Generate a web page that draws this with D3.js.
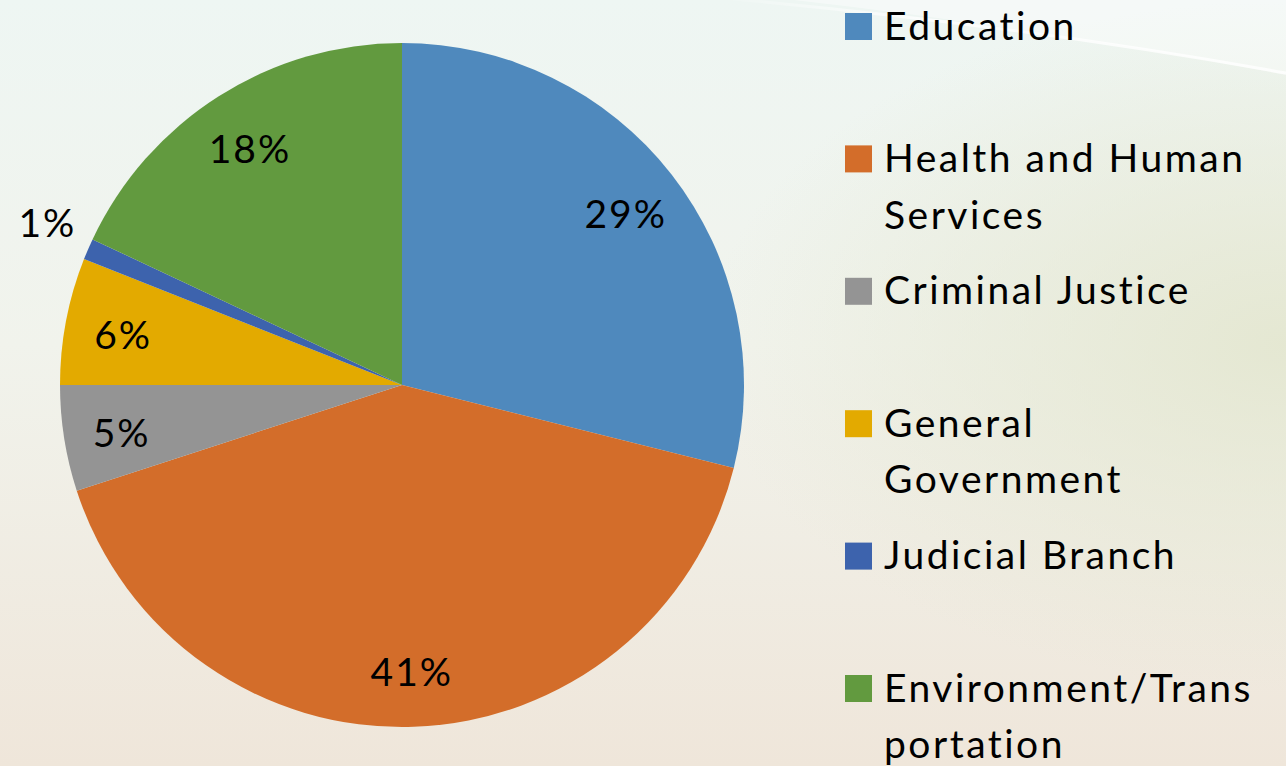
<!DOCTYPE html>
<html>
<head>
<meta charset="utf-8">
<script src="https://d3js.org/d3.v7.min.js"></script>
<style>
    html, body { margin: 0; padding: 0; }
    body { width: 1286px; height: 766px; overflow: hidden; }
    #chart { width: 1286px; height: 766px; }
    text { font-family: Lato, "Open Sans", sans-serif; fill: #000; }
</style>
</head>
<body>
<div id="chart"></div>
<script>
// data
const categories = ["Education", "Health and Human Services", "Criminal Justice",
    "General Government", "Judicial Branch", "Environment/Transportation"];
const shares = [28.9, 41.1, 5.0, 6.0, 1.0, 18.0];
const shareLabels = ["29%", "41%", "5%", "6%", "1%", "18%"];
const legendLines = [["Education"], ["Health and Human", "Services"], ["Criminal Justice"],
    ["General", "Government"], ["Judicial Branch"], ["Environment/Trans", "portation"]];
const sliceColors = ["#4f89bd", "#d36d2a", "#949494", "#e3aa00", "#3d63ad", "#629a3f"];

const width = 1286, height = 766;
const cx = 402, cy = 385, radius = 342;

const svg = d3.select("#chart").append("svg")
    .attr("width", width)
    .attr("height", height);

// background
const defs = svg.append("defs");
const bg = defs.append("linearGradient")
    .attr("id", "bg-grad")
    .attr("x1", 0).attr("y1", 0).attr("x2", 0).attr("y2", 1);
bg.append("stop").attr("offset", "0%").attr("stop-color", "#eef6f3");
bg.append("stop").attr("offset", "45%").attr("stop-color", "#f1f3ec");
bg.append("stop").attr("offset", "100%").attr("stop-color", "#efe6da");

const tint = defs.append("radialGradient")
    .attr("id", "bg-tint")
    .attr("cx", 1).attr("cy", 0.45).attr("r", 0.45);
tint.append("stop").attr("offset", "0%").attr("stop-color", "#e3e6cf").attr("stop-opacity", 0.9);
tint.append("stop").attr("offset", "100%").attr("stop-color", "#e3e6cf").attr("stop-opacity", 0);

const swooshGrad = defs.append("linearGradient")
    .attr("id", "swoosh-grad")
    .attr("x1", 0).attr("y1", 0).attr("x2", 1).attr("y2", 0);
swooshGrad.append("stop").attr("offset", "0%").attr("stop-color", "#ffffff").attr("stop-opacity", 0);
swooshGrad.append("stop").attr("offset", "40%").attr("stop-color", "#ffffff").attr("stop-opacity", 0.8);
swooshGrad.append("stop").attr("offset", "100%").attr("stop-color", "#ffffff").attr("stop-opacity", 0.8);

svg.append("rect").attr("width", width).attr("height", height).attr("fill", "url(#bg-grad)");
svg.append("rect").attr("width", width).attr("height", height).attr("fill", "url(#bg-tint)");

// faint white swoosh at top right
svg.append("path")
    .attr("d", "M 700 -10 Q 1000 20 1286 75 L 1286 -10 Z")
    .attr("fill", "#ffffff")
    .attr("opacity", 0.4);
svg.append("path")
    .attr("d", "M 700 -4 Q 1000 22 1286 73")
    .attr("fill", "none")
    .attr("stroke", "url(#swoosh-grad)")
    .attr("stroke-width", 3);

// pie
const pie = d3.pie().sort(null).value(d => d);
const arcs = pie(shares);

const arc = d3.arc().innerRadius(0).outerRadius(radius);
const labelArc = d3.arc().innerRadius(radius * 0.83).outerRadius(radius * 0.83);
const outerLabelArc = d3.arc().innerRadius(radius * 1.13).outerRadius(radius * 1.13);

const pieGroup = svg.append("g").attr("transform", `translate(${cx}, ${cy})`);

pieGroup.selectAll(".slice")
    .data(arcs)
    .enter()
    .append("path")
    .attr("class", "slice")
    .attr("d", arc)
    .attr("fill", (d, i) => sliceColors[i]);

pieGroup.selectAll(".slice-label")
    .data(arcs)
    .enter()
    .append("text")
    .attr("class", "slice-label")
    .attr("transform", d => {
        let c = (d.data < 2 ? outerLabelArc : labelArc).centroid(d);
        if (d.data < 2) c[1] -= 12;
        return `translate(${c[0]}, ${c[1]})`;
    })
    .attr("text-anchor", "middle")
    .attr("dy", "0.45em")
    .style("font-size", "39px")
    .style("letter-spacing", "2px")
    .text((d, i) => shareLabels[i]);

// legend
const legendY = d3.scalePoint()
    .domain(categories)
    .range([26, 688]);

const legend = svg.append("g").attr("class", "legend");
const items = legend.selectAll(".legend-item")
    .data(categories)
    .enter()
    .append("g")
    .attr("class", "legend-item")
    .attr("transform", d => `translate(845, ${legendY(d)})`);

items.append("rect")
    .attr("x", 0)
    .attr("y", -13)
    .attr("width", 27)
    .attr("height", 27)
    .attr("fill", (d, i) => sliceColors[i]);

items.append("text")
    .attr("x", 39)
    .attr("y", 0)
    .style("font-size", "39px")
    .style("letter-spacing", "2.5px")
    .each(function(d, i) {
        d3.select(this).selectAll("tspan")
            .data(legendLines[i])
            .enter()
            .append("tspan")
            .attr("x", 39)
            .attr("dy", (t, j) => j === 0 ? "0.35em" : "1.45em")
            .text(t => t);
    });
</script>
</body>
</html>
